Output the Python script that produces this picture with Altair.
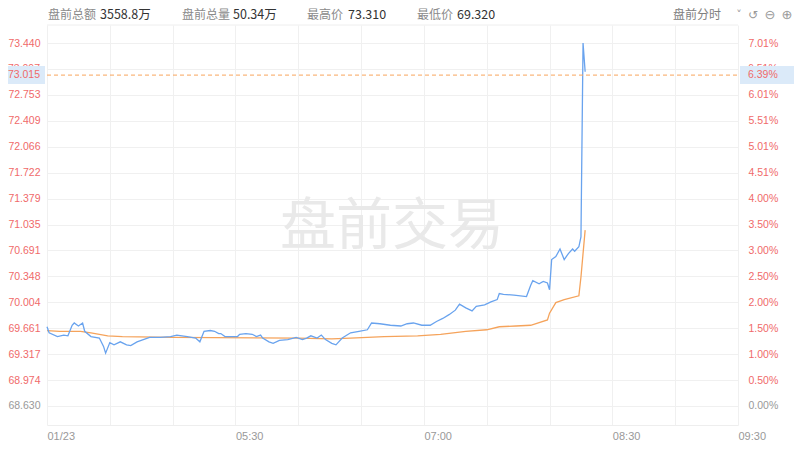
import altair as alt
import pandas as pd

# ---------------- data ----------------
price_times = ["04:00","04:01","04:05","04:08","04:10","04:12","04:13","04:15","04:17","04:18",
               "04:21","04:25","04:27","04:28","04:30","04:32","04:35","04:38","04:40","04:43",
               "04:46","04:49","04:54","04:59","05:02","05:07","05:11","05:13","05:15","05:18",
               "05:20","05:22","05:23","05:25","05:31","05:32","05:35","05:38","05:40","05:42",
               "05:43","05:46","05:48","05:51","05:55","05:59","06:02","06:04","06:06","06:09",
               "06:11","06:13","06:16","06:18","06:21","06:25","06:29","06:33","06:35","06:39",
               "06:44","06:49","06:52","06:55","06:59","07:03","07:06","07:09","07:12","07:15",
               "07:17","07:20","07:23","07:25","07:29","07:32","07:35","07:36","07:38","07:43",
               "07:49","07:51","07:52","07:55","07:57","07:59","08:00","08:01","08:03","08:05",
               "08:07","08:09","08:11","08:12","08:14","08:15","08:16","08:17"]
prices = [69.68,69.60,69.55,69.57,69.56,69.70,69.73,69.69,69.73,69.62,
          69.55,69.53,69.42,69.33,69.47,69.44,69.48,69.44,69.43,69.48,
          69.51,69.54,69.54,69.55,69.57,69.55,69.53,69.48,69.62,69.63,
          69.62,69.59,69.59,69.55,69.55,69.58,69.59,69.58,69.55,69.57,
          69.53,69.48,69.46,69.50,69.51,69.54,69.51,69.53,69.56,69.53,
          69.57,69.51,69.46,69.44,69.53,69.60,69.62,69.64,69.73,69.72,
          69.70,69.69,69.72,69.73,69.70,69.70,69.75,69.79,69.84,69.90,
          69.98,69.93,69.89,69.95,69.97,70.01,70.04,70.12,70.11,70.10,
          70.08,70.23,70.29,70.25,70.28,70.26,70.17,70.57,70.61,70.71,
          70.57,70.65,70.71,70.68,70.74,70.87,73.44,73.06]

avg_times = ["04:00","04:06","04:16","04:21","04:29","04:36","05:00","06:00","06:16","06:25",
             "06:41","06:57","07:08","07:20","07:30","07:36","07:44","07:51","07:59","08:00",
             "08:03","08:07","08:14","08:15","08:16","08:17"]
avg_prices = [69.63,69.62,69.62,69.60,69.56,69.55,69.54,69.53,69.52,69.53,
              69.55,69.56,69.58,69.62,69.64,69.68,69.69,69.70,69.77,69.86,
              70.00,70.04,70.09,70.34,70.65,70.96]

price_ticks = [68.630, 68.974, 69.317, 69.661, 70.004, 70.348, 70.691, 71.035,
               71.379, 71.722, 72.066, 72.409, 72.753, 73.097, 73.440]
pct_labels = ["0.00%","0.50%","1.00%","1.50%","2.00%","2.50%","3.00%","3.50%",
              "4.00%","4.51%","5.01%","5.51%","6.01%","6.51%","7.01%"]
hidden_tick = 13  # tick whose label sits under the last-price box

x_tick_minutes = [0, 90, 180, 270, 330]
x_tick_labels = ["01/23", "05:30", "07:00", "08:30", "09:30"]

last_price = 73.015
last_pct = "6.39%"

header_names = ["盘前总额", "盘前总量", "最高价", "最低价"]
header_values = ["3558.8万", "50.34万", "73.310", "69.320"]
mode_label = "盘前分时"
watermark = "盘前交易"

# ---------------- helpers ----------------
def to_min(t):
    h, m = t.split(":")
    return int(h) * 60 + int(m) - 240

price_df = pd.DataFrame({"t": [to_min(t) for t in price_times], "p": prices})
avg_df = pd.DataFrame({"t": [to_min(t) for t in avg_times], "p": avg_prices})
last_df = pd.DataFrame({"p": [last_price], "lbl": [f"{last_price:.3f}"], "pct": [last_pct]})
hid_df = pd.DataFrame({"p": [price_ticks[hidden_tick]],
                       "lbl": [f"{price_ticks[hidden_tick]:.3f}"],
                       "pct": [pct_labels[hidden_tick]]})
one = pd.DataFrame({"a": [0]})

W, H = 691, 400
RED = "#f06a6a"
GRID = "#f0f0f0"
FS = 10.5
HY = -10.5

yscale = alt.Scale(domain=[68.378, 73.679], nice=False, zero=False)
xscale = alt.Scale(domain=[0, 330], nice=False, zero=False)

x_expr = " : ".join(f"datum.value == {m} ? '{l}'" for m, l in zip(x_tick_minutes, x_tick_labels)) + " : ''"
xaxis = alt.Axis(values=list(range(0, 331, 30)), labelExpr=x_expr, grid=True, gridColor=GRID,
                 ticks=False, domainColor="#eeeeee", labelAlign="left", labelColor="#999999",
                 labelFontSize=11, labelFont="Liberation Sans", labelPadding=5, title=None,
                 labelFlush=False, labelOverlap=False)

hid_val = repr(price_ticks[hidden_tick])
left_axis = alt.Axis(values=price_ticks,
                     labelExpr=f"datum.value == {hid_val} ? '' : format(datum.value, '.3f')",
                     grid=True, gridColor=GRID, ticks=False, domain=False, labelFontSize=FS,
                     labelFont="Liberation Sans", labelPadding=7, title=None,
                     labelColor={"expr": f"datum.value < 68.7 ? '#999999' : '{RED}'"},
                     labelOverlap=False)

vals_js = "[" + ",".join(repr(v) for v in price_ticks) + "]"
labs_js = "[" + ",".join(f"'{l}'" for l in pct_labels) + "]"
right_axis = alt.Axis(values=price_ticks, orient="right",
                      labelExpr=f"datum.value == {hid_val} ? '' : {labs_js}[indexof({vals_js}, datum.value)]",
                      grid=False, ticks=False, domain=False, labelFontSize=FS,
                      labelFont="Liberation Sans", labelPadding=10, title=None,
                      labelColor={"expr": f"datum.value < 68.7 ? '#999999' : '{RED}'"},
                      labelOverlap=False)

# ---------------- layers ----------------
wm = alt.Chart(one).mark_text(text=watermark, font="Noto Sans CJK SC", fontSize=56,
                              color="#e9e9e9", align="center", baseline="middle").encode(
    x=alt.value(345), y=alt.value(202))

avg_line = alt.Chart(avg_df).mark_line(color="#f5a35b", strokeWidth=1.3).encode(
    x=alt.X("t:Q", scale=xscale, axis=xaxis),
    y=alt.Y("p:Q", scale=yscale, axis=right_axis))

price_line = alt.Chart(price_df).mark_line(color="#69a3ee", strokeWidth=1.3).encode(
    x=alt.X("t:Q", scale=xscale, axis=xaxis),
    y=alt.Y("p:Q", scale=yscale, axis=left_axis))

# labels of the tick hidden under the boxes (drawn before the boxes)
hid_l = alt.Chart(hid_df).mark_text(align="right", baseline="middle", fontSize=FS,
                                    font="Liberation Sans", color=RED).encode(
    y=alt.Y("p:Q", scale=yscale, axis=None), x=alt.value(-7), text="lbl:N")
hid_r = alt.Chart(hid_df).mark_text(align="left", baseline="middle", fontSize=FS,
                                    font="Liberation Sans", color=RED).encode(
    y=alt.Y("p:Q", scale=yscale, axis=None), x=alt.value(W + 10), text="pct:N")

dash = alt.Chart(last_df).mark_rule(color="#f8a45c", strokeDash=[4, 3], strokeWidth=1).encode(
    y=alt.Y("p:Q", scale=yscale, axis=None), x=alt.value(0), x2=alt.value(W))

box_l = alt.Chart(last_df).mark_rect(color="#dbeaf9", yOffset=-9, y2Offset=9).encode(
    y=alt.Y("p:Q", scale=yscale, axis=None), y2="p:Q", x=alt.value(-39), x2=alt.value(-2))
box_r = alt.Chart(last_df).mark_rect(color="#dbeaf9", yOffset=-9, y2Offset=9).encode(
    y=alt.Y("p:Q", scale=yscale, axis=None), y2="p:Q", x=alt.value(W + 2), x2=alt.value(W + 70))

txt_l = alt.Chart(last_df).mark_text(align="right", baseline="middle", fontSize=FS,
                                     font="Liberation Sans", color=RED).encode(
    y=alt.Y("p:Q", scale=yscale, axis=None), x=alt.value(-7), text="lbl:N")
txt_r = alt.Chart(last_df).mark_text(align="left", baseline="middle", fontSize=FS,
                                     font="Liberation Sans", color=RED).encode(
    y=alt.Y("p:Q", scale=yscale, axis=None), x=alt.value(W + 10), text="pct:N")

top_border = alt.Chart(one).mark_rule(color="#eeeeee").encode(
    x=alt.value(0), x2=alt.value(W), y=alt.value(0))

hdr = []
name_x = [1, 135, 260, 370]
val_x = [53, 186, 301, 410]
for n, v, nx, vx in zip(header_names, header_values, name_x, val_x):
    hdr.append(alt.Chart(one).mark_text(text=n, align="left", baseline="middle", fontSize=12,
                                        font="Noto Sans CJK SC", color="#8a8a8a").encode(
        x=alt.value(nx), y=alt.value(HY)))
    hdr.append(alt.Chart(one).mark_text(text=v, align="left", baseline="middle", fontSize=12.5,
                                        font="Noto Sans CJK SC", color="#333333").encode(
        x=alt.value(vx), y=alt.value(HY)))
hdr.append(alt.Chart(one).mark_text(text=mode_label, align="left", baseline="middle", fontSize=12,
                                    font="Noto Sans CJK SC", color="#808080").encode(
    x=alt.value(626), y=alt.value(HY)))
for ch, cx, fs in [("˅", 692, 11), ("↺", 706, 12), ("⊖", 723, 13), ("⊕", 740, 13)]:
    hdr.append(alt.Chart(one).mark_text(text=ch, align="center", baseline="middle", fontSize=fs,
                                        font="DejaVu Sans", color="#999999").encode(
        x=alt.value(cx), y=alt.value(HY)))

chart = alt.layer(wm, avg_line, price_line, hid_l, hid_r, dash, box_l, box_r, txt_l, txt_r,
                  top_border, *hdr).resolve_scale(y="independent").properties(
    width=W, height=H, autosize=alt.AutoSizeParams(type="none"),
    padding={"left": 39, "top": 17, "right": 56, "bottom": 22},
    background="white").configure_view(stroke=None)

chart.save("out.html", embed_options={"renderer": "svg", "actions": False})
